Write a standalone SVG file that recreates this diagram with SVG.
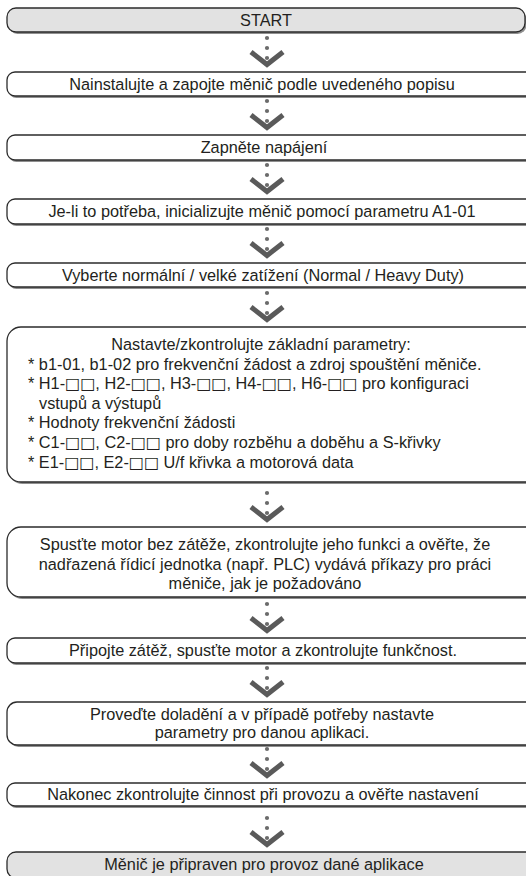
<svg xmlns="http://www.w3.org/2000/svg" width="526" height="876" viewBox="0 0 526 876">
<style>
.box{fill:#fff;stroke:#2b2b2b;stroke-width:1.3}
.gray{fill:#e2e2e2}
.sh{fill:#8f8f8f}
.t{font-family:"Liberation Sans",Arial,sans-serif;font-size:16.3px;fill:#231f20}
.c{text-anchor:middle}
.sq{font-family:"DejaVu Sans",sans-serif;font-size:16px}
.dot{fill:#6b6b6b}
.chev{fill:none;stroke:#5a5a5a;stroke-width:5;stroke-linejoin:miter}
</style>
<defs>
<g id="conn">
<circle class="dot" cx="0" cy="-34" r="2.1"/>
<circle class="dot" cx="0" cy="-24" r="2.1"/>
<circle class="dot" cx="0" cy="-14" r="2.1"/>
<polyline class="chev" points="-16,-20 0,-7.5 16,-20"/>
</g>
</defs>
<rect width="526" height="876" fill="#fff"/>
<g id="connectors">
<use href="#conn" x="267" y="72"/>
<use href="#conn" x="267" y="135"/>
<use href="#conn" x="267" y="199"/>
<use href="#conn" x="267" y="263"/>
<use href="#conn" x="267" y="327"/>
<use href="#conn" x="267" y="527"/>
<use href="#conn" x="267" y="638"/>
<use href="#conn" x="267" y="702"/>
<use href="#conn" x="267" y="783"/>
<use href="#conn" x="267" y="852"/>
</g>
<g id="start">
<rect class="sh" x="8.5" y="10" width="518" height="24" rx="9"/>
<rect class="box gray" x="7" y="8" width="518" height="24" rx="9"/>
<text class="t c" x="266" y="26">START</text>
</g>
<g id="install">
<rect class="sh" x="8.5" y="74" width="540" height="24" rx="8"/>
<rect class="box" x="7" y="72" width="540" height="24" rx="8"/>
<text class="t c" x="262" y="90">Nainstalujte a zapojte měnič podle uvedeného popisu</text>
</g>
<g id="power">
<rect class="sh" x="8.5" y="137" width="540" height="25" rx="8"/>
<rect class="box" x="7" y="135" width="540" height="25" rx="8"/>
<text class="t c" x="264" y="153">Zapněte napájení</text>
</g>
<g id="init">
<rect class="sh" x="8.5" y="201" width="540" height="25" rx="8"/>
<rect class="box" x="7" y="199" width="540" height="25" rx="8"/>
<text class="t c" x="262" y="217">Je-li to potřeba, inicializujte měnič pomocí parametru A1-01</text>
</g>
<g id="duty">
<rect class="sh" x="8.5" y="265" width="540" height="24" rx="8"/>
<rect class="box" x="7" y="263" width="540" height="24" rx="8"/>
<text class="t c" x="263" y="281">Vyberte normální / velké zatížení (Normal / Heavy Duty)</text>
</g>
<g id="params">
<rect class="sh" x="8.5" y="329" width="540" height="155" rx="14"/>
<rect class="box" x="7" y="327" width="540" height="155" rx="14"/>
<text class="t c" x="261" y="350">Nastavte/zkontrolujte základní parametry:</text>
<text class="t" x="28" y="369.6">* b1-01, b1-02 pro frekvenční žádost a zdroj spouštění měniče.</text>
<text class="t" x="28" y="389.2">* H1-<tspan class="sq">□□</tspan>, H2-<tspan class="sq">□□</tspan>, H3-<tspan class="sq">□□</tspan>, H4-<tspan class="sq">□□</tspan>, H6-<tspan class="sq">□□</tspan> pro konfiguraci</text>
<text class="t" x="39" y="408.8">vstupů a výstupů</text>
<text class="t" x="28" y="428.4">* Hodnoty frekvenční žádosti</text>
<text class="t" x="28" y="448">* C1-<tspan class="sq">□□</tspan>, C2-<tspan class="sq">□□</tspan> pro doby rozběhu a doběhu a S-křivky</text>
<text class="t" x="28" y="467.6">* E1-<tspan class="sq">□□</tspan>, E2-<tspan class="sq">□□</tspan> U/f křivka a motorová data</text>
</g>
<g id="noload">
<rect class="sh" x="8.5" y="529" width="540" height="70" rx="14"/>
<rect class="box" x="7" y="527" width="540" height="70" rx="14"/>
<text class="t c" x="265" y="550">Spusťte motor bez zátěže, zkontrolujte jeho funkci a ověřte, že</text>
<text class="t c" x="265" y="569.5">nadřazená řídicí jednotka (např. PLC) vydává příkazy pro práci</text>
<text class="t c" x="265" y="589">měniče, jak je požadováno</text>
</g>
<g id="load">
<rect class="sh" x="8.5" y="640" width="540" height="25" rx="8"/>
<rect class="box" x="7" y="638" width="540" height="25" rx="8"/>
<text class="t c" x="263" y="656">Připojte zátěž, spusťte motor a zkontrolujte funkčnost.</text>
</g>
<g id="tune">
<rect class="sh" x="8.5" y="704" width="540" height="43" rx="10"/>
<rect class="box" x="7" y="702" width="540" height="43" rx="10"/>
<text class="t c" x="262" y="719.5">Proveďte doladění a v případě potřeby nastavte</text>
<text class="t c" x="262" y="737.5">parametry pro danou aplikaci.</text>
</g>
<g id="verify">
<rect class="sh" x="8.5" y="785" width="540" height="23" rx="8"/>
<rect class="box" x="7" y="783" width="540" height="23" rx="8"/>
<text class="t c" x="263" y="800">Nakonec zkontrolujte činnost při provozu a ověřte nastavení</text>
</g>
<g id="ready">
<rect class="sh" x="8.5" y="854" width="540" height="26" rx="9"/>
<rect class="box gray" x="7" y="852" width="540" height="26" rx="9"/>
<text class="t c" x="264" y="870">Měnič je připraven pro provoz dané aplikace</text>
</g>
</svg>
